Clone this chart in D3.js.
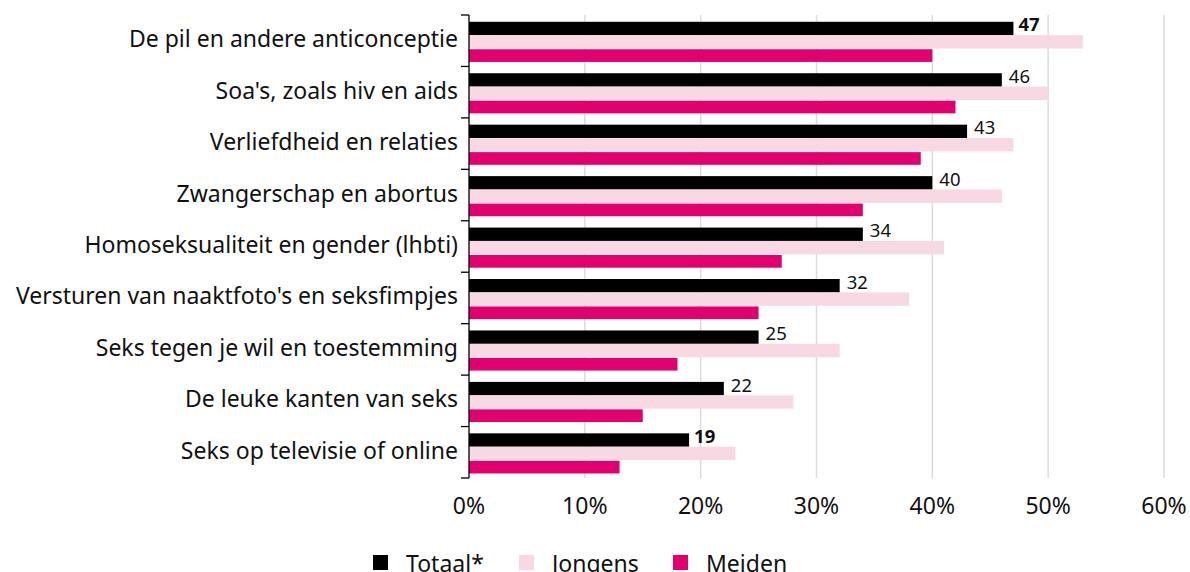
<!DOCTYPE html>
<html>
<head>
<meta charset="utf-8">
<script src="https://cdn.jsdelivr.net/npm/d3@7"></script>
<style>
  body { margin: 0; background: #fff; }
  text { font-family: "Noto Sans", "Open Sans", sans-serif; fill: #111; }
</style>
</head>
<body>
<div id="chart"></div>
<script>
const svgWidth = 1190;
const svgHeight = 572;

const categories = [
    "De pil en andere anticonceptie",
    "Soa's, zoals hiv en aids",
    "Verliefdheid en relaties",
    "Zwangerschap en abortus",
    "Homoseksualiteit en gender (lhbti)",
    "Versturen van naaktfoto's en seksfimpjes",
    "Seks tegen je wil en toestemming",
    "De leuke kanten van seks",
    "Seks op televisie of online"
];
const totaal = [47, 46, 43, 40, 34, 32, 25, 22, 19];
const jongens = [53, 50, 47, 46, 41, 38, 32, 28, 23];
const meiden = [40, 42, 39, 34, 27, 25, 18, 15, 13];
const boldLabels = [true, false, false, false, false, false, false, false, true];
const seriesNames = ["Totaal*", "Jongens", "Meiden"];
const xTicks = [0, 10, 20, 30, 40, 50, 60];

const colors = ["#000000", "#f8d8e3", "#e0006e"];

// chart area
const margin = { top: 15, right: 26, bottom: 94, left: 469 };
const chartWidth = svgWidth - margin.left - margin.right;
const chartHeight = svgHeight - margin.top - margin.bottom;

const svg = d3.select("#chart").append("svg")
    .attr("width", svgWidth)
    .attr("height", svgHeight);

const g = svg.append("g")
    .attr("transform", `translate(${margin.left}, ${margin.top})`);

const xScale = d3.scaleLinear()
    .domain([0, 60])
    .range([0, 695]);

const yScale = d3.scaleBand()
    .domain(categories)
    .range([0, chartHeight])
    .paddingInner(0.22)
    .paddingOuter(0.11)
    .align(0.6);

const subScale = d3.scaleBand()
    .domain(seriesNames)
    .range([0, yScale.bandwidth()]);

// gridlines
g.selectAll(".grid").data(xTicks.slice(1))
    .enter().append("line")
    .attr("x1", d => xScale(d))
    .attr("x2", d => xScale(d))
    .attr("y1", 0)
    .attr("y2", chartHeight)
    .attr("stroke", "#dcdcdc")
    .attr("stroke-width", 1.5);

// x tick labels
g.selectAll(".xlab").data(xTicks)
    .enter().append("text")
    .attr("x", d => xScale(d))
    .attr("y", chartHeight + 36)
    .attr("text-anchor", "middle")
    .attr("font-size", "23px")
    .text(d => d + "%");

const rows = categories.map((c, i) => ({
    cat: c,
    vals: [totaal[i], jongens[i], meiden[i]],
    bold: boldLabels[i]
}));

const rowG = g.selectAll(".row").data(rows)
    .enter().append("g")
    .attr("transform", d => `translate(0, ${yScale(d.cat)})`);

rowG.selectAll("rect").data(d => d.vals.map((v, j) => ({ v, s: seriesNames[j], j })))
    .enter().append("rect")
    .attr("x", 0)
    .attr("y", d => subScale(d.s) + (d.j === 2 ? 0.7 : 0))
    .attr("width", d => xScale(d.v))
    .attr("height", d => subScale.bandwidth() - (d.j === 2 ? 0.7 : 0))
    .attr("fill", d => colors[d.j]);

// value labels on Totaal
rowG.append("text")
    .attr("x", d => xScale(d.vals[0]) + (d.bold ? 5 : 7))
    .attr("y", subScale("Totaal*") + subScale.bandwidth() / 2 + 2)
    .attr("dy", "0.05em")
    .attr("font-size", "18.5px")
    .attr("font-weight", d => d.bold ? "bold" : "normal")
    .text(d => d.vals[0]);

// category labels
g.selectAll(".cat").data(categories)
    .enter().append("text")
    .attr("x", -11)
    .attr("y", d => yScale(d) + yScale.bandwidth() / 3 + 4)
    .attr("dy", "0.35em")
    .attr("text-anchor", "end")
    .attr("font-size", "23px")
    .text(d => d);

// y axis line with ticks at band boundaries
g.append("line")
    .attr("x1", 0).attr("x2", 0)
    .attr("y1", 0).attr("y2", chartHeight)
    .attr("stroke", "#000").attr("stroke-width", 1.3);
g.selectAll(".ytick").data(d3.range(categories.length + 1))
    .enter().append("line")
    .attr("x1", -8).attr("x2", 0)
    .attr("y1", d => d * chartHeight / categories.length)
    .attr("y2", d => d * chartHeight / categories.length)
    .attr("stroke", "#000").attr("stroke-width", 1.3);

// legend
const legendX = [373, 519, 673];
const legend = svg.selectAll(".legend").data(seriesNames)
    .enter().append("g")
    .attr("transform", (d, i) => `translate(${legendX[i]}, 555)`);
legend.append("rect")
    .attr("width", 15).attr("height", 15)
    .attr("fill", (d, i) => colors[i]);
legend.append("text")
    .attr("x", 33)
    .attr("y", 9)
    .attr("dy", "0.35em")
    .attr("font-size", "23px")
    .text(d => d);
</script>
</body>
</html>
